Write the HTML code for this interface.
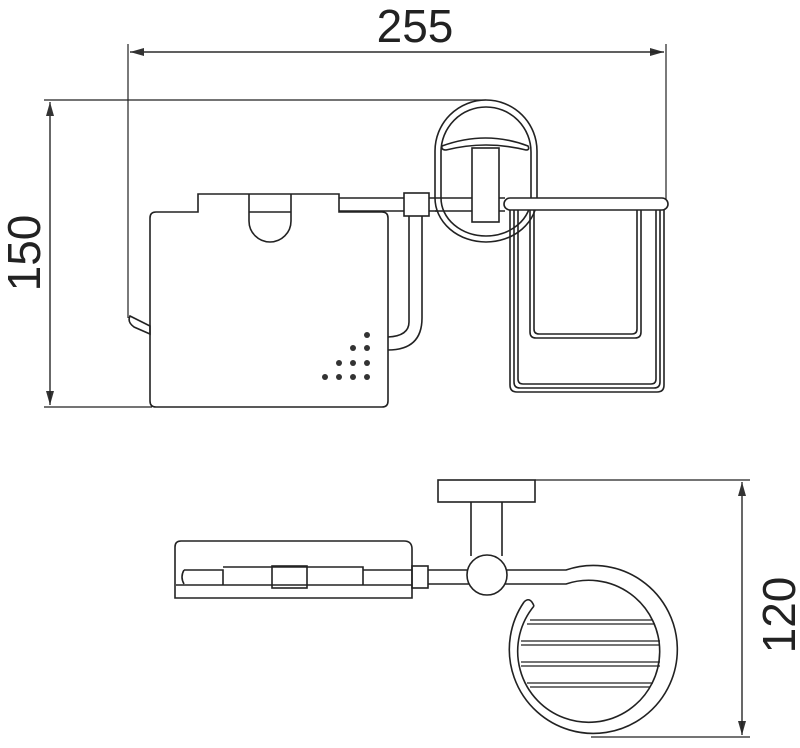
<!DOCTYPE html>
<html><head><style>html,body{margin:0;padding:0;background:#fff}svg{display:block}</style></head>
<body>
<svg width="800" height="748" viewBox="0 0 800 748" xmlns="http://www.w3.org/2000/svg">
<defs>
<marker id="a" markerWidth="14" markerHeight="8" refX="14" refY="4" orient="auto" markerUnits="userSpaceOnUse">
<path d="M0,0 L14,4 L0,8 Z" fill="#333"/></marker>
</defs>
<g fill="none" stroke="#222" stroke-width="1.6">
<!-- dimension 255 -->
<line x1="128" y1="44" x2="128" y2="318" stroke-width="1.2"/>
<line x1="666" y1="44" x2="666" y2="200" stroke-width="1.2"/>
<line x1="130" y1="52" x2="664" y2="52" stroke-width="1.2" marker-end="url(#a)"/>
<line x1="664" y1="52" x2="130" y2="52" stroke-width="1.2" marker-end="url(#a)"/>
<!-- dimension 150 -->
<line x1="44" y1="100" x2="486" y2="100" stroke-width="1.2"/>
<line x1="44" y1="407" x2="152" y2="407" stroke-width="1.2"/>
<line x1="50" y1="102" x2="50" y2="405" stroke-width="1.2" marker-end="url(#a)"/>
<line x1="50" y1="405" x2="50" y2="102" stroke-width="1.2" marker-end="url(#a)"/>
<!-- hook -->
<path d="M130,316 L150,326 L150,334 L134,327 Q127,322 130,316 Z"/>
<!-- paper holder box -->
<path d="M198,194 L339,194 L339,212 L382,212 Q388,212 388,218 L388,401 Q388,407 382,407 L156,407 Q150,407 150,401 L150,218 Q150,212 156,212 L198,212 Z"/>
<path d="M249,194 L249,221 A21,21 0 0 0 291,221 L291,194"/>
<line x1="249" y1="212" x2="291" y2="212"/>
<!-- rod -->
<line x1="339" y1="198" x2="505" y2="198"/>
<line x1="339" y1="211" x2="505" y2="211"/>
<rect x="404" y="193" width="25" height="23" fill="#fff"/>
<path d="M409,216 L409,322 Q409,336 388,337"/>
<path d="M422,216 L422,318 Q422,350 388,350"/>
<!-- mount oval -->
<path d="M435,151 A51,51 0 0 1 537,151 L537,198 A51,44 0 0 1 435,198 Z" fill="#fff"/>
<path d="M441,198 L441,152 A45,45 0 0 1 531,152 L531,198"/>
<path d="M442,146 Q486,130 528,146 Q530,150 526,150 Q486,140 446,150 Q441,150 442,146 Z"/>
<path d="M441,198 A45,38 0 0 0 531,198"/>
<line x1="435" y1="198" x2="505" y2="198"/>
<line x1="435" y1="211" x2="505" y2="211"/>
<rect x="472" y="148" width="27" height="74" fill="#fff"/>
<!-- cup -->
<path d="M510,210 L510,385 Q510,392 517,392 L657,392 Q664,392 664,385 L664,210"/>
<path d="M514,210 L514,382 Q514,388 520,388 L654,388 Q660,388 660,382 L660,210"/>
<path d="M518,210 L518,379 Q518,384 523,384 L651,384 Q656,384 656,379 L656,210"/>
<path d="M530,210 L530,332 Q530,338 536,338 L635,338 Q641,338 641,332 L641,210"/>
<path d="M534,210 L534,329 Q534,334 539,334 L632,334 Q637,334 637,329 L637,210"/>
<rect x="504" y="198" width="164" height="12" rx="6" fill="#fff"/>
</g>
<g fill="#333">
<circle cx="367" cy="335" r="3"/>
<circle cx="353" cy="348" r="3"/><circle cx="367" cy="348" r="3"/>
<circle cx="339" cy="363" r="3"/><circle cx="353" cy="363" r="3"/><circle cx="367" cy="363" r="3"/>
<circle cx="325" cy="377" r="3"/><circle cx="339" cy="377" r="3"/><circle cx="353" cy="377" r="3"/><circle cx="367" cy="377" r="3"/>
</g>
<g fill="none" stroke="#222" stroke-width="1.6">
<!-- bottom view -->
<rect x="438" y="480" width="97" height="22"/>
<line x1="471" y1="502" x2="471" y2="556"/>
<line x1="502" y1="502" x2="502" y2="556"/>
<path d="M181,541 L404,541 Q412,541 412,549 L412,598 L175,598 L175,547 Q175,541 181,541 Z"/>
<path d="M176,585 L412,585"/>
<path d="M184,570 L223,570 L223,585 M223,567 L363,567 L363,585 M363,570 L412,570"/>
<path d="M184,570 Q180,577 184,584"/>
<rect x="272" y="566" width="35" height="22"/>
<rect x="412" y="566" width="16" height="22"/>
<line x1="428" y1="570" x2="470" y2="570"/>
<line x1="428" y1="584" x2="470" y2="584"/>
<!-- ring -->
<path d="M505,570 L566,570 A84,84 0 1 1 524,602"/>
<path d="M505,584 L566,584 A71,71 0 1 1 534,606"/>
<path d="M524,602 Q530,596 534,606"/>
<g stroke-width="1.3">
<line x1="530" y1="620" x2="652" y2="620"/><line x1="527" y1="624" x2="655" y2="624"/>
<line x1="521" y1="641" x2="660" y2="641"/><line x1="521" y1="645" x2="660" y2="645"/>
<line x1="521" y1="662" x2="660" y2="662"/><line x1="521" y1="666" x2="660" y2="666"/>
<line x1="527" y1="683" x2="653" y2="683"/><line x1="530" y1="687" x2="650" y2="687"/>
</g>
<circle cx="487" cy="575" r="20" fill="#fff"/>
<!-- dimension 120 -->
<line x1="535" y1="480" x2="750" y2="480" stroke-width="1.2"/>
<line x1="591" y1="737" x2="750" y2="737" stroke-width="1.2"/>
<line x1="742" y1="482" x2="742" y2="735" stroke-width="1.2" marker-end="url(#a)"/>
<line x1="742" y1="735" x2="742" y2="482" stroke-width="1.2" marker-end="url(#a)"/>
</g>
<g font-family="Liberation Sans, sans-serif" font-size="46" fill="#222" text-anchor="middle">
<text x="415" y="42">255</text>
<text transform="translate(40,253) rotate(-90)">150</text>
<text transform="translate(795,615) rotate(-90)">120</text>
</g>
</svg>
</body></html>
